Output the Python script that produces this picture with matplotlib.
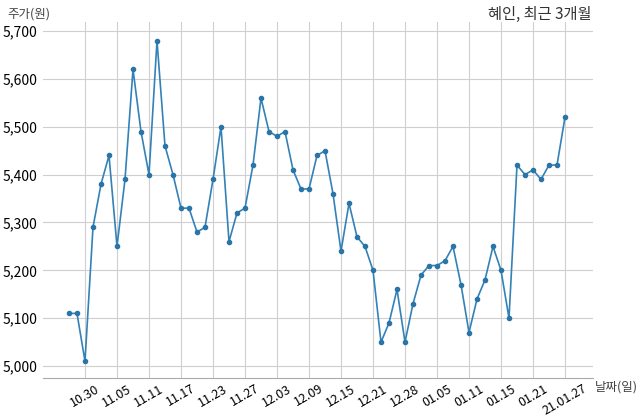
import matplotlib
matplotlib.use("Agg")
import matplotlib.pyplot as plt
from matplotlib.ticker import FuncFormatter

plt.rcParams['font.family'] = ['Noto Sans CJK KR', 'DejaVu Sans']

dates = ["10.28", "10.29", "10.30", "11.02", "11.03", "11.04", "11.05", "11.06", "11.09", "11.10",
         "11.11", "11.12", "11.13", "11.16", "11.17", "11.18", "11.19", "11.20", "11.23", "11.24",
         "11.25", "11.26", "11.27", "11.30", "12.01", "12.02", "12.03", "12.04", "12.07", "12.08",
         "12.09", "12.10", "12.11", "12.14", "12.15", "12.16", "12.17", "12.18", "12.21", "12.22",
         "12.23", "12.24", "12.28", "12.29", "12.30", "01.04", "01.05", "01.06", "01.07", "01.08",
         "01.11", "01.12", "01.13", "01.14", "01.15", "01.18", "01.19", "01.20", "01.21", "01.22",
         "01.25", "01.26", "21.01.27"]
prices = [5110, 5110, 5010, 5290, 5380, 5440, 5250, 5390, 5620, 5490,
          5400, 5680, 5460, 5400, 5330, 5330, 5280, 5290, 5390, 5500,
          5260, 5320, 5330, 5420, 5560, 5490, 5480, 5490, 5410, 5370,
          5370, 5440, 5450, 5360, 5240, 5340, 5270, 5250, 5200, 5050,
          5090, 5160, 5050, 5130, 5190, 5210, 5210, 5220, 5250, 5170,
          5070, 5140, 5180, 5250, 5200, 5100, 5420, 5400, 5410, 5390,
          5420, 5420, 5520]
tick_idx = list(range(2, len(dates), 4))
tick_labels = [dates[i] for i in tick_idx]
y_ticks = [5000, 5100, 5200, 5300, 5400, 5500, 5600, 5700]

fig = plt.figure(figsize=(6.4, 4.19), dpi=100)
ax = fig.add_axes([43/640, 1-378/419, 550/640, 356/419])

x = list(range(len(prices)))
ax.plot(x, prices, color='#3282b8', linewidth=1.2, marker='o', markersize=3.0,
        markerfacecolor='#2a74a8', markeredgecolor='#2a74a8', zorder=3)

ax.set_xlim(-3.25, 65.5)
ax.set_ylim(4975, 5719)
ax.set_xticks(tick_idx)
ax.set_xticklabels(tick_labels, rotation=30, ha='center', fontsize=9)
ax.set_yticks(y_ticks)
ax.yaxis.set_major_formatter(FuncFormatter(lambda v, p: f"{int(v):,}"))
ax.tick_params(axis='y', labelsize=10, length=0, pad=4)
ax.tick_params(axis='x', length=0, pad=3)

ax.grid(True, color='#cfcfcf', linewidth=0.8)
ax.set_axisbelow(True)
for s in ['top', 'right', 'left']:
    ax.spines[s].set_visible(False)
ax.spines['bottom'].set_color('#aaaaaa')

fig.text(7/640, 1-14/419, "주가(원)", fontsize=9, color='#444444', va='center', ha='left')
fig.text(595/640, 1-387/419, "날짜(일)", fontsize=9, color='#444444', va='center', ha='left')
fig.text(591/640, 1-14/419, "혜인, 최근 3개월", fontsize=11, color='#333333', va='center', ha='right')

fig.savefig("out.png", dpi=100)
